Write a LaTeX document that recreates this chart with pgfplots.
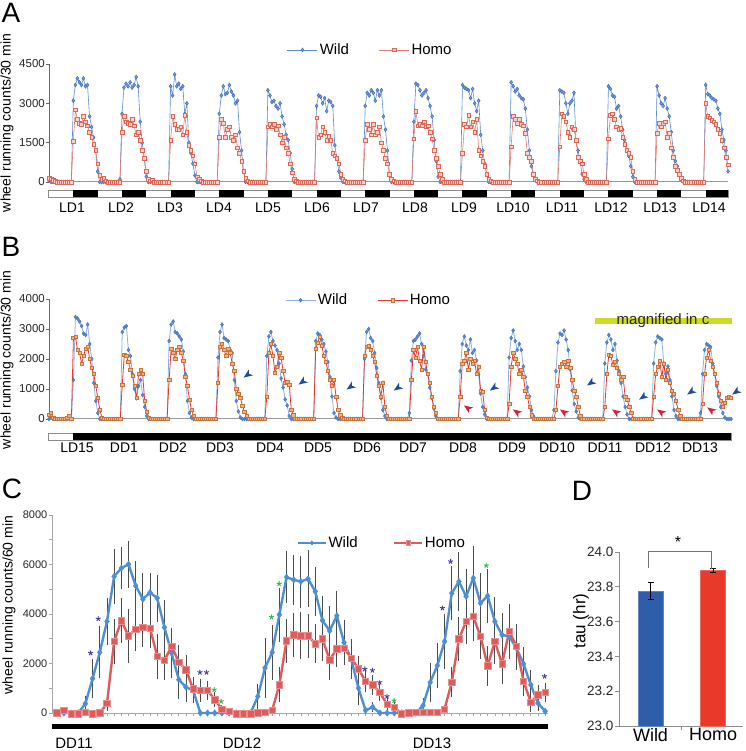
\documentclass[border=0pt]{standalone}
\usepackage{pgfplots}
\pgfplotsset{compat=1.18}
\usepackage{fontspec}
\setmainfont{Liberation Sans}
\newcommand\fs[1]{\fontsize{#1}{#1}\selectfont}

\definecolor{wA}{HTML}{5B8CD0}
\definecolor{wAm}{HTML}{3A68BE}
\definecolor{wAf}{HTML}{7199D8}
\definecolor{hA}{HTML}{E27A6E}
\definecolor{hAm}{HTML}{E06656}
\definecolor{hAf}{HTML}{F8D3CC}
\definecolor{wB}{HTML}{8EB1E2}
\definecolor{wBm}{HTML}{4677C4}
\definecolor{wBf}{HTML}{5A86CE}
\definecolor{hB}{HTML}{E8382E}
\definecolor{hBm}{HTML}{C9733A}
\definecolor{hBf}{HTML}{F2B47C}
\definecolor{wC}{HTML}{4D8FD1}
\definecolor{hC}{HTML}{DE5B5B}
\definecolor{hCe}{HTML}{EA8E8E}
\definecolor{starP}{HTML}{3E3A9A}
\definecolor{starG}{HTML}{2DB34A}
\definecolor{arB}{HTML}{1F4C9E}
\definecolor{arR}{HTML}{D4203A}
\definecolor{wD}{HTML}{2E5DAB}
\definecolor{hD}{HTML}{E9392A}
\definecolor{yel}{HTML}{CDDC25}

% notched arrowhead, tip pointing to +x
\pgfdeclareplotmark{arrowhead}{%
  \pgfpathmoveto{\pgfqpoint{\pgfplotmarksize}{0pt}}%
  \pgfpathlineto{\pgfqpoint{-\pgfplotmarksize}{0.8\pgfplotmarksize}}%
  \pgfpathlineto{\pgfqpoint{-0.45\pgfplotmarksize}{0pt}}%
  \pgfpathlineto{\pgfqpoint{-\pgfplotmarksize}{-0.8\pgfplotmarksize}}%
  \pgfpathclose
  \pgfusepathqfill}

\pgfplotsset{
  /pgf/number format/assume math mode=true,
  /pgf/number format/1000 sep={},
  leglong/.style={legend image code/.code={\draw[mark repeat=2,mark phase=2,##1] plot coordinates {(0pt,0pt) (15pt,0pt) (30pt,0pt)};}},
  activity/.style={scale only axis, axis lines=left, axis line style={-},
    x axis line style={draw=black!40, line width=1pt},
    y axis line style={draw=black!60, line width=0.8pt},
    xtick=\empty, tick align=outside, major tick length=3pt,
    ytick style={draw=black!60, line width=0.6pt},
    yticklabel style={font=\fs{11.5}, inner sep=1pt, text=black!85},
    clip=false, leglong, legend columns=2},
}

% panel C: hourly means and errors (DD11-DD13)
\pgfplotstableread{
i w we h he
0 0 0 0 60
1 0 0 110 100
2 0 0 -40 40
3 0 0 -40 40
4 380 300 30 80
5 1390 800 -30 60
6 2450 1050 0 80
7 3700 950 380 300
8 5520 1100 2890 900
9 5850 850 3730 900
10 6010 950 3120 1100
11 5140 1000 3390 900
12 4600 1050 3470 800
13 4870 800 3430 800
14 4640 950 2290 900
15 3460 1100 2130 800
16 2420 1000 2690 700
17 1350 800 2060 700
18 1040 600 1750 600
19 920 500 970 500
20 0 0 910 450
21 0 0 910 400
22 0 0 540 300
23 0 0 160 150
24 0 0 70 80
25 0 0 -40 40
26 0 0 -40 40
27 0 0 -40 40
28 670 500 0 50
29 1820 1200 30 60
30 2450 1100 110 100
31 3970 1100 1140 700
32 5490 1050 2910 900
33 5380 1000 3160 900
34 5310 1050 3120 950
35 5420 1150 3120 900
36 4910 1000 2800 800
37 3740 1000 2990 900
38 3320 1000 2150 800
39 3930 1000 2600 750
40 2850 900 2620 700
41 2180 800 2220 600
42 1010 700 1790 500
43 110 150 1280 450
44 240 200 1140 400
45 0 0 830 350
46 0 0 340 250
47 0 0 240 200
48 0 0 -40 40
49 0 0 0 40
50 0 0 30 40
51 300 300 30 40
52 1240 800 30 40
53 1920 900 30 60
54 2890 1100 160 150
55 4840 1100 1240 600
56 5310 1200 2990 900
57 4710 1100 3700 900
58 5450 1300 3900 1000
59 4440 1200 3090 900
60 4730 1100 1910 800
61 3700 1000 2890 900
62 3160 900 1990 800
63 3090 900 3300 1100
64 2620 900 2690 900
65 1980 700 1280 600
66 1140 600 430 400
67 400 300 740 400
68 70 100 830 400
}\tabC

\begin{document}
\begin{tikzpicture}
\useasboundingbox (0pt,0pt) rectangle (745pt,751pt);

% ---------------- A ----------------
\begin{axis}[activity,
  at={(49pt,569pt)}, anchor=south west, width=679pt, height=118pt,
  xmin=0, xmax=335, ymin=0, ymax=4500, ytick={0,1500,3000,4500},
  legend style={draw=none, fill=none, font=\fs{15}, at={(0.3505,1.119)}, anchor=west,
    inner sep=0pt, /tikz/every even column/.append style={column sep=28pt}},
]
\draw[black!45, line width=0.8pt] (axis cs:-0.5,-305) rectangle (axis cs:335,-572);
\pgfplotsinvokeforeach{0,...,13}{\fill[black] (axis cs:{24*#1+12},-305) rectangle (axis cs:{min(24*#1+24,335)},-572);}
\addplot[color=wA, line width=0.6pt, mark=diamond*, mark size=2pt, mark options={draw=wAm, fill=wAf, line width=0.4pt}]
table[header=false, x expr=\coordindex, y index=0, row sep=\\] {
50\\0\\0\\0\\0\\0\\0\\0\\0\\0\\0\\0\\3100\\3700\\3950\\3800\\3700\\3950\\3650\\3700\\2500\\2100\\1700\\1200\\
400\\0\\0\\0\\0\\0\\0\\0\\0\\0\\0\\100\\2600\\3600\\3750\\3650\\3800\\3600\\3700\\4000\\3650\\2300\\1500\\900\\
200\\0\\0\\0\\0\\0\\0\\0\\0\\0\\0\\0\\3650\\3300\\4100\\3650\\3750\\3550\\3650\\2600\\3000\\1500\\1100\\700\\
250\\0\\0\\0\\0\\0\\0\\0\\0\\0\\0\\0\\2600\\3300\\3650\\3350\\3400\\3700\\3450\\3300\\3000\\3100\\1900\\1200\\
400\\0\\0\\0\\0\\0\\0\\0\\0\\0\\0\\0\\3500\\3300\\3050\\3100\\2900\\2800\\3000\\2500\\2200\\1800\\1600\\1100\\
500\\0\\0\\0\\0\\0\\0\\0\\0\\0\\0\\0\\2900\\3300\\3250\\3000\\3200\\2700\\3100\\3050\\2900\\1400\\900\\400\\
150\\0\\0\\0\\0\\0\\0\\0\\0\\0\\0\\0\\2900\\3400\\3300\\3500\\3400\\3100\\3500\\3300\\3500\\2500\\2000\\1200\\
300\\0\\0\\0\\0\\0\\0\\0\\0\\0\\0\\0\\2300\\3750\\3700\\3500\\3300\\3400\\3500\\3200\\2900\\2500\\1600\\800\\
200\\0\\0\\0\\0\\0\\0\\0\\0\\0\\0\\0\\3700\\3600\\3550\\3500\\3200\\3550\\3000\\2700\\3100\\1800\\1200\\700\\
300\\0\\0\\0\\0\\0\\0\\0\\0\\0\\0\\0\\3800\\3650\\3450\\3550\\3300\\3200\\3150\\2800\\2000\\1200\\600\\300\\
100\\0\\0\\0\\0\\0\\0\\0\\0\\0\\0\\0\\3500\\3450\\3400\\3000\\2600\\3000\\3100\\3400\\1600\\1200\\800\\300\\
100\\0\\0\\0\\0\\0\\0\\0\\0\\0\\0\\0\\3650\\3550\\3300\\3250\\2800\\2900\\2500\\2000\\1600\\1200\\1000\\600\\
200\\0\\0\\0\\0\\0\\0\\0\\0\\0\\0\\0\\3650\\3300\\3000\\2900\\3200\\2800\\2500\\1900\\1200\\800\\600\\250\\
100\\0\\0\\0\\0\\0\\0\\0\\0\\0\\0\\0\\3700\\3350\\3300\\3200\\3150\\3100\\2800\\2600\\2000\\1600\\1200\\400\\
};
\addlegendentry{Wild}
\addplot[color=hA, line width=0.6pt, mark=square*, mark size=1.8pt, mark options={draw=hAm, fill=hAf, line width=0.5pt}]
table[header=false, x expr=\coordindex, y index=0, row sep=\\] {
150\\120\\60\\30\\0\\0\\0\\0\\0\\0\\0\\0\\1550\\2750\\2400\\2250\\2200\\2500\\2300\\2150\\1900\\1700\\1450\\1200\\
700\\250\\100\\150\\50\\0\\0\\0\\0\\0\\0\\0\\1900\\2500\\2300\\2250\\2200\\2400\\2150\\1800\\1900\\1600\\1200\\900\\
400\\100\\50\\80\\0\\0\\0\\0\\0\\0\\0\\0\\1600\\2500\\2200\\2000\\2000\\2100\\1800\\2550\\1900\\1400\\1200\\1000\\
700\\200\\100\\50\\0\\0\\0\\0\\0\\0\\0\\0\\1700\\2400\\2250\\1700\\2000\\2100\\1700\\1600\\1800\\1300\\1100\\800\\
400\\150\\50\\0\\0\\0\\0\\0\\0\\0\\0\\0\\2100\\2200\\2100\\2200\\2000\\2150\\1800\\1500\\1700\\1300\\1100\\700\\
350\\100\\50\\0\\0\\0\\0\\0\\0\\0\\0\\0\\2450\\1700\\1800\\2100\\1900\\1600\\1750\\1600\\1100\\1000\\900\\700\\
300\\100\\50\\0\\0\\0\\0\\0\\0\\0\\0\\0\\1600\\2200\\2000\\1800\\2200\\1800\\1900\\2100\\1500\\1200\\900\\700\\
300\\100\\50\\0\\0\\0\\0\\0\\0\\0\\0\\0\\1650\\2700\\2150\\2200\\2150\\2300\\2100\\2150\\1900\\1650\\1200\\900\\
600\\300\\100\\0\\0\\0\\0\\0\\0\\0\\0\\0\\1100\\2200\\2100\\2550\\2100\\2300\\1900\\2400\\1200\\1000\\800\\600\\
300\\100\\50\\0\\0\\0\\0\\0\\0\\0\\0\\0\\1350\\2500\\2400\\2250\\2400\\2200\\2150\\1850\\1100\\950\\800\\300\\
100\\50\\0\\0\\0\\0\\0\\0\\0\\0\\0\\0\\1350\\2600\\2500\\2300\\1900\\1700\\2100\\2000\\1600\\950\\800\\700\\
300\\100\\0\\0\\0\\0\\0\\0\\0\\0\\0\\0\\1650\\2550\\2600\\2400\\2100\\2000\\2050\\1700\\1450\\1200\\1100\\950\\
400\\100\\0\\0\\0\\0\\0\\0\\0\\0\\0\\0\\1850\\2250\\2100\\2250\\2300\\1700\\1850\\1300\\950\\600\\450\\300\\
150\\50\\0\\0\\0\\0\\0\\0\\0\\0\\0\\0\\3000\\2500\\2450\\2350\\2300\\2200\\2000\\1850\\1600\\1300\\950\\650\\
};
\addlegendentry{Homo}
\end{axis}

% ---------------- B ----------------
\begin{axis}[activity,
  at={(49pt,332pt)}, anchor=south west, width=682pt, height=120pt,
  xmin=0, xmax=335, ymin=0, ymax=4000, ytick={0,1000,2000,3000,4000},
  legend style={draw=none, fill=none, font=\fs{15}, at={(0.346,0.99)}, anchor=west,
    inner sep=0pt, /tikz/every even column/.append style={column sep=28pt}},
]
\draw[black!45, line width=0.8pt] (axis cs:-0.5,-467) rectangle (axis cs:335,-700);
\fill[black] (axis cs:12,-467) rectangle (axis cs:335,-700);
\addplot[color=wB, line width=0.8pt, mark=diamond*, mark size=2pt, mark options={draw=wBm, fill=wBf, line width=0.4pt}]
table[header=false, x expr=\coordindex, y index=0, row sep=\\] {
0\\50\\0\\0\\0\\0\\0\\0\\0\\0\\0\\0\\1300\\3400\\3350\\3250\\3100\\2850\\2800\\3150\\2500\\2000\\1200\\600\\
200\\0\\0\\0\\0\\0\\0\\0\\0\\0\\0\\0\\2900\\3050\\3100\\2300\\2100\\1500\\1000\\700\\1100\\1300\\800\\400\\
100\\0\\0\\0\\0\\0\\0\\0\\0\\0\\0\\2600\\3150\\3250\\2900\\2850\\2750\\2650\\2250\\1500\\600\\200\\50\\0\\
0\\0\\0\\0\\0\\0\\0\\0\\0\\0\\0\\2050\\2900\\3150\\2700\\2650\\2600\\2300\\2200\\1300\\600\\250\\50\\0\\
0\\0\\0\\0\\0\\0\\0\\0\\0\\0\\0\\2100\\2750\\2900\\2600\\2450\\2300\\1850\\1350\\1050\\650\\450\\100\\0\\
0\\0\\0\\0\\0\\0\\0\\0\\0\\0\\0\\2600\\2850\\2800\\2650\\2500\\2250\\1900\\1400\\750\\200\\50\\0\\0\\
0\\0\\0\\0\\0\\0\\0\\0\\0\\0\\0\\2000\\2900\\3000\\2700\\2600\\2200\\1700\\1200\\700\\300\\100\\0\\0\\
0\\0\\0\\0\\0\\0\\0\\0\\0\\200\\1950\\2600\\2650\\2750\\2850\\2500\\2100\\1650\\1500\\1050\\700\\350\\100\\0\\
0\\0\\0\\0\\0\\0\\0\\0\\0\\0\\1600\\2500\\2750\\2450\\2300\\2650\\2200\\2300\\1950\\1500\\850\\400\\150\\0\\
0\\0\\0\\0\\0\\0\\0\\0\\0\\0\\2050\\2700\\2950\\2600\\2300\\2500\\2300\\1750\\1400\\1050\\750\\300\\100\\0\\
0\\0\\0\\0\\0\\0\\0\\0\\300\\1600\\2550\\2850\\2800\\2950\\2650\\2300\\1650\\950\\500\\250\\50\\0\\0\\0\\
0\\0\\0\\0\\0\\0\\0\\0\\0\\1850\\2550\\2800\\2650\\2300\\2500\\1950\\1600\\1200\\750\\400\\150\\0\\0\\0\\
0\\0\\0\\0\\0\\0\\0\\0\\0\\1850\\2550\\2750\\2700\\2650\\1850\\1500\\1750\\1300\\750\\300\\100\\0\\0\\0\\
0\\0\\0\\0\\0\\0\\0\\0\\200\\1500\\2300\\2500\\2450\\2400\\1850\\1500\\1100\\750\\400\\200\\50\\0\\0\\0\\
};
\addlegendentry{Wild}
\addplot[color=hB, line width=0.8pt, mark=square*, mark size=1.7pt, mark options={draw=hBm, fill=hBf, line width=0.5pt}]
table[header=false, x expr=\coordindex, y index=0, row sep=\\] {
150\\200\\50\\0\\0\\0\\0\\0\\0\\50\\100\\0\\2700\\2750\\2300\\2200\\1850\\2100\\2350\\2400\\2000\\1700\\1500\\1100\\
700\\300\\50\\0\\0\\0\\0\\0\\0\\0\\0\\0\\1150\\2150\\2100\\1900\\1650\\1450\\1100\\700\\1500\\1650\\1500\\600\\
250\\50\\0\\0\\0\\0\\0\\0\\0\\0\\0\\1300\\2350\\2200\\2000\\2300\\2400\\2200\\1950\\1400\\1100\\650\\300\\100\\
0\\0\\0\\0\\0\\0\\0\\0\\0\\0\\0\\1200\\2400\\2500\\2300\\2100\\2350\\2200\\1850\\1600\\1000\\850\\700\\450\\
250\\100\\0\\0\\0\\0\\0\\0\\0\\0\\0\\750\\2200\\2500\\2100\\1550\\1750\\2200\\2050\\1600\\1200\\1250\\1150\\300\\
130\\0\\0\\0\\0\\0\\0\\0\\0\\0\\0\\2350\\2550\\2750\\2450\\2100\\1900\\1600\\1300\\1100\\1300\\750\\300\\130\\
50\\0\\0\\0\\0\\0\\0\\0\\0\\0\\0\\2100\\2400\\2450\\2300\\2100\\1900\\1450\\1100\\750\\1200\\400\\100\\0\\
0\\0\\0\\0\\0\\0\\0\\0\\0\\0\\1300\\2300\\2050\\2400\\1950\\1650\\2400\\1900\\1500\\1200\\750\\400\\200\\0\\
0\\0\\0\\0\\0\\0\\0\\0\\0\\0\\750\\1850\\1950\\2200\\1650\\2000\\1850\\1950\\1500\\1750\\950\\900\\300\\50\\
0\\0\\0\\0\\0\\0\\0\\0\\0\\0\\500\\1750\\2200\\2000\\1850\\1500\\1650\\1400\\950\\750\\400\\130\\0\\0\\
0\\0\\0\\0\\0\\0\\0\\0\\0\\300\\1100\\1750\\1850\\1900\\1750\\1950\\1700\\1300\\950\\750\\400\\100\\0\\0\\
0\\0\\0\\0\\0\\0\\0\\0\\0\\400\\1500\\2150\\2100\\1800\\1900\\1700\\1500\\1300\\1400\\750\\650\\400\\200\\0\\
0\\0\\0\\0\\0\\0\\0\\0\\0\\750\\1500\\1750\\1950\\1400\\1850\\1300\\1650\\1200\\950\\850\\600\\300\\100\\0\\
0\\0\\0\\0\\0\\0\\0\\0\\0\\500\\1500\\2050\\2300\\1950\\1750\\1500\\1200\\850\\600\\400\\550\\700\\750\\700\\
};
\addlegendentry{Homo}
% arrowheads marking the end of activity
\addplot[forget plot, only marks, mark=arrowhead, mark size=4.5pt, mark options={rotate=215, fill=arB}]
coordinates {(97.4,1467) (124.4,1233) (148,1067) (171.2,1033) (218.4,1033) (266.1,1200) (291.7,733) (315.3,900) (337.4,900)};
\addplot[forget plot, only marks, mark=arrowhead, mark size=4.5pt, mark options={rotate=145, fill=arR}]
coordinates {(205.6,367) (229.7,233) (252.8,233) (278.4,233) (300.5,233) (325.1,300)};
\end{axis}

% ---------------- C ----------------
\begin{axis}[
  at={(52pt,38pt)}, anchor=south west, scale only axis, width=496pt, height=198pt,
  xmin=-0.65, xmax=68.4, ymin=0, ymax=8000,
  axis lines=left, axis line style={-, draw=black!35, line width=0.8pt},
  xtick={0,...,68}, xticklabel style={opacity=0},
  ytick={0,2000,4000,6000,8000}, minor ytick={1000,3000,5000,7000},
  tick align=outside, major tick length=3pt, minor tick length=3pt,
  tick style={draw=black!35, line width=0.6pt},
  yticklabel style={font=\fs{11}, inner sep=1.5pt, text=black!85},
  clip=false, legend columns=2,
  legend image code/.code={\draw[mark repeat=2,mark phase=2,#1] plot coordinates {(0pt,0pt) (14pt,0pt) (28pt,0pt)};},
  legend image post style={line width=1.3pt, mark size=2.3pt},
  legend style={draw=none, fill=none, font=\fs{15}, at={(0.494,0.859)}, anchor=west,
    inner sep=0pt, /tikz/every even column/.append style={column sep=34pt}},
]
\fill[black] (axis cs:-0.65,-444) rectangle (axis cs:68.4,-646);
\addplot[forget plot, draw=none, mark=none, error bars/.cd, y dir=both, y explicit, error mark=none,
  error bar style={draw=black!70, line width=0.9pt, solid}] table[x=i, y=w, y error=we] {\tabC};
\addplot[forget plot, draw=none, mark=none, error bars/.cd, y dir=both, y explicit, error mark=none,
  error bar style={draw=black!70, line width=0.9pt, solid}] table[x=i, y=h, y error=he] {\tabC};
\addplot[color=wC, line width=2.4pt, mark=diamond*, mark size=3.3pt, mark options={fill=wC, draw=wC, line width=0.3pt}]
  table[x=i, y=w] {\tabC};
\addlegendentry{Wild}
\addplot[color=hC, line width=2.4pt, mark=square*, mark size=3.2pt, mark options={fill=hC, draw=hCe, line width=0.6pt}]
  table[x=i, y=h] {\tabC};
\addlegendentry{Homo}
\addplot[forget plot, only marks, mark=star, mark size=2.6pt, color=starP, line width=0.9pt]
coordinates {(4.73,2420) (5.79,3806) (19.94,1641) (20.86,1641) (42.9,1775) (43.95,1722) (44.97,1237) (45.99,672) (53.7,4237) (54.84,6120) (67.92,1480)};
\addplot[forget plot, only marks, mark=star, mark size=2.6pt, color=starG, line width=0.9pt]
coordinates {(21.93,941) (22.9,470) (29.9,3874) (30.97,5219) (46.97,498) (59.8,5958)};
\end{axis}

% ---------------- D ----------------
\begin{axis}[
  at={(619pt,25pt)}, anchor=south west, scale only axis, width=124pt, height=174pt,
  xmin=-0.504, xmax=1.48, ymin=23, ymax=24,
  axis lines=left, axis line style={-, draw=black!45, line width=0.8pt},
  ybar, bar width=25pt,
  ytick={23,23.2,23.4,23.6,23.8,24},
  yticklabel style={font=\fs{13.5}, inner sep=1.5pt, text=black!85,
    /pgf/number format/fixed, /pgf/number format/fixed zerofill, /pgf/number format/precision=1},
  xtick={0.5}, xticklabels={},
  extra x ticks={0,1}, extra x tick labels={Wild,Homo},
  extra x tick style={major tick length=0pt},
  xticklabel style={font=\fs{18}, inner sep=2pt},
  tick align=outside, major tick length=4pt, tick style={draw=black!45, line width=0.7pt},
  clip mode=individual,
]
\addplot[bar shift=0pt, fill=wD, draw=wD!75!white, error bars/.cd, y dir=both, y explicit,
  error bar style={black, line width=0.8pt}, error mark options={rotate=90, mark size=3pt, black, line width=0.8pt}]
  coordinates {(0,23.775) +- (0,0.05)};
\addplot[bar shift=0pt, fill=hD, draw=hD!75!white, error bars/.cd, y dir=both, y explicit,
  error bar style={black, line width=0.8pt}, error mark options={rotate=90, mark size=3pt, black, line width=0.8pt}]
  coordinates {(1,23.895) +- (0,0.012)};
\draw[black!55, line width=0.8pt] (axis cs:-0.04,23.91) -- (axis cs:-0.04,24.005) -- (axis cs:0.97,24.005) -- (axis cs:0.97,23.905);
\node[font=\fs{16}] at (axis cs:0.44,24.055) {*};
\end{axis}

% ---------------- text around the panels ----------------
\node[font=\fs{28}] at (11pt,738pt) {A};
\node[font=\fs{28}] at (11pt,504pt) {B};
\node[font=\fs{28}] at (12pt,262pt) {C};
\node[font=\fs{28}] at (582pt,260pt) {D};
\node[rotate=90, font=\fs{14}] at (7pt,628pt) {wheel running counts/30 min};
\node[rotate=90, font=\fs{14}] at (7pt,391pt) {wheel running counts/30 min};
\node[rotate=90, font=\fs{14}] at (9pt,146pt) {wheel running counts/60 min};
\node[rotate=90, font=\fs{17}] at (581pt,130pt) {tau (hr)};
\foreach \i/\x in {1/72,2/121,3/170,4/219,5/268,6/317,7/366,8/415,9/464,10/513,11/562,12/611,13/660,14/709}
  \node[anchor=base, font=\fs{14}] at (\x pt,538pt) {LD\i};
\node[anchor=base, font=\fs{14}] at (77pt,298pt) {LD15};
\foreach \i/\x in {1/124,2/173,3/220,4/270,5/318,6/367,7/413,8/463,9/512,10/557,11/605,12/653,13/700}
  \node[anchor=base, font=\fs{14}] at (\x pt,298pt) {DD\i};
\fill[yel] (595pt,427pt) rectangle (732pt,433pt);
\node[anchor=base, font=\fs{15}, text=black!85] at (663pt,426pt) {magnified in c};
\node[anchor=base, font=\fs{15}] at (74pt,2pt) {DD11};
\node[anchor=base, font=\fs{15}] at (242pt,2pt) {DD12};
\node[anchor=base, font=\fs{15}] at (432pt,2pt) {DD13};
\end{tikzpicture}
\end{document}
